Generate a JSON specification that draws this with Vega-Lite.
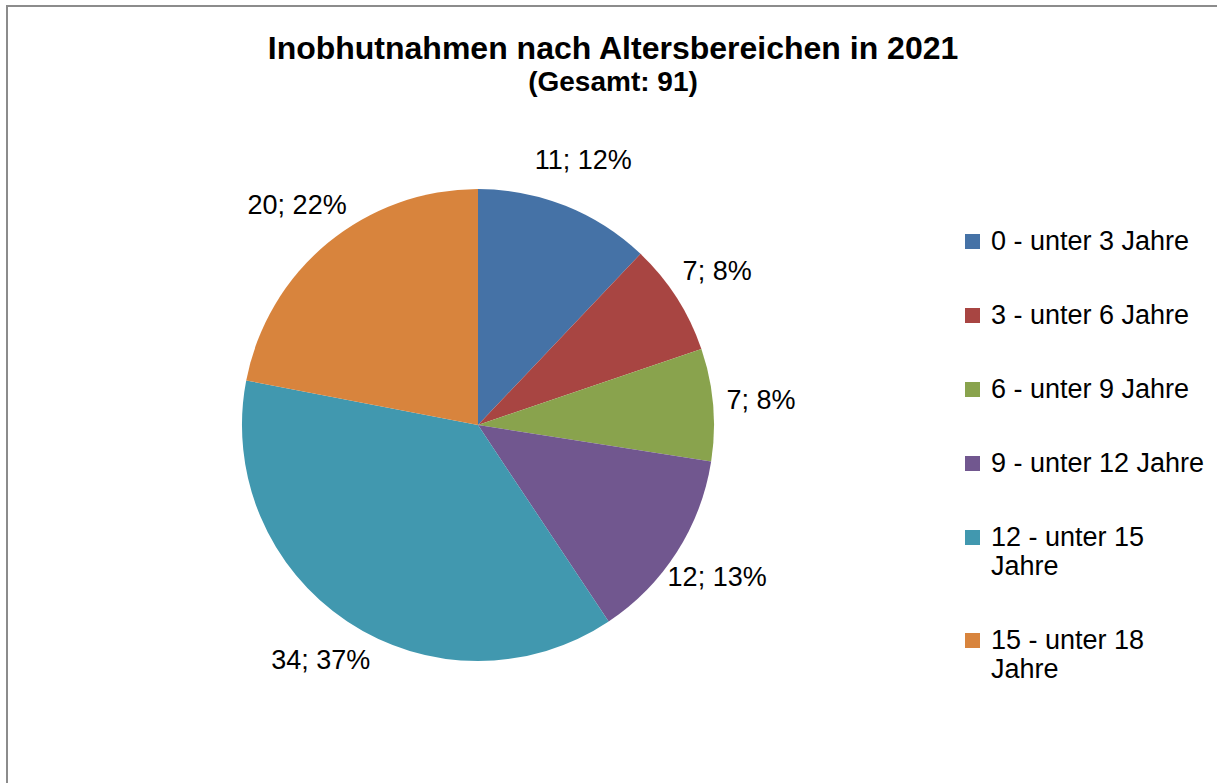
{
  "$schema": "https://vega.github.io/schema/vega-lite/v6.json",
  "width": 1212,
  "height": 781,
  "autosize": {"type": "none"},
  "padding": {"left": 7, "top": 6, "right": 0, "bottom": 0},
  "background": "white",
  "view": {"stroke": "#8c8c8c", "strokeWidth": 2},
  "config": {
    "view": {"stroke": "#8c8c8c", "strokeWidth": 2},
    "font": "Liberation Sans"
  },
  "title": {
    "text": "Inobhutnahmen nach Altersbereichen in 2021",
    "subtitle": "(Gesamt: 91)",
    "font": "Liberation Sans",
    "subtitleFont": "Liberation Sans",
    "fontSize": 32,
    "fontWeight": "bold",
    "subtitleFontSize": 28,
    "subtitleFontWeight": "bold",
    "color": "black",
    "subtitleColor": "black",
    "anchor": "middle",
    "frame": "group",
    "orient": "top",
    "offset": -92,
    "subtitlePadding": 3
  },
  "data": {
    "values": [
      {"idx": 1, "category": "0 - unter 3 Jahre", "value": 11, "label": "11; 12%"},
      {"idx": 2, "category": "3 - unter 6 Jahre", "value": 7, "label": "7; 8%"},
      {"idx": 3, "category": "6 - unter 9 Jahre", "value": 7, "label": "7; 8%"},
      {"idx": 4, "category": "9 - unter 12 Jahre", "value": 12, "label": "12; 13%"},
      {"idx": 5, "category": "12 - unter 15 Jahre", "value": 34, "label": "34; 37%"},
      {"idx": 6, "category": "15 - unter 18 Jahre", "value": 20, "label": "20; 22%"}
    ]
  },
  "encoding": {
    "theta": {"field": "value", "type": "quantitative", "stack": true},
    "order": {"field": "idx", "type": "quantitative"}
  },
  "layer": [
    {
      "mark": {"type": "arc", "outerRadius": 236, "x": {"expr": "width*0.3886"}, "y": {"expr": "height*0.5365"}},
      "encoding": {
        "color": {
          "field": "category",
          "type": "nominal",
          "sort": null,
          "scale": {
            "domain": ["0 - unter 3 Jahre", "3 - unter 6 Jahre", "6 - unter 9 Jahre", "9 - unter 12 Jahre", "12 - unter 15 Jahre", "15 - unter 18 Jahre"],
            "range": ["#4572A6", "#A84542", "#89A34D", "#71578F", "#4198AF", "#D8843D"]
          },
          "legend": {
            "title": null,
            "orient": "none",
            "legendX": 952,
            "legendY": 222,
            "padding": 0,
            "symbolType": "square",
            "symbolSize": 225,
            "symbolStrokeWidth": 0,
            "labelFontSize": 27,
            "labelFont": "Liberation Sans",
            "labelColor": "black",
            "labelOffset": 5,
            "labelLimit": 300,
            "rowPadding": 46,
            "labelExpr": "length(datum.label) > 18 ? [slice(datum.label, 0, 13), 'Jahre'] : datum.label"
          }
        }
      }
    },
    {
      "mark": {"type": "text", "radius": 284, "fontSize": 27, "font": "Liberation Sans", "color": "black", "x": {"expr": "width*0.3886"}, "y": {"expr": "height*0.5365"}},
      "encoding": {
        "text": {"field": "label", "type": "nominal"}
      }
    }
  ]
}
